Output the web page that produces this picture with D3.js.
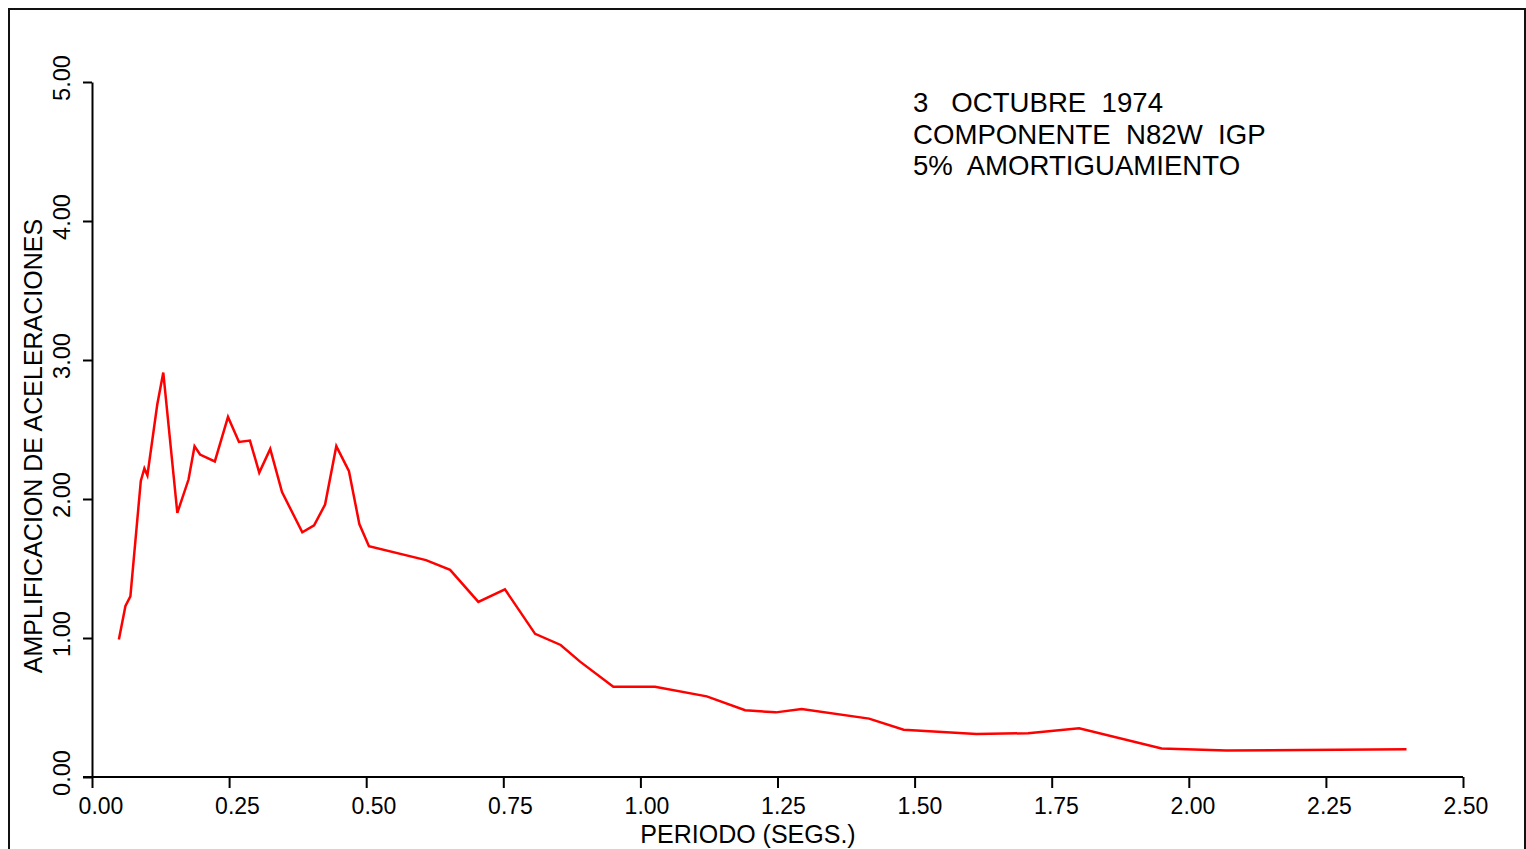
<!DOCTYPE html>
<html>
<head>
<meta charset="utf-8">
<script src="https://cdn.jsdelivr.net/npm/d3@7"></script>
<style>
  html, body { margin: 0; padding: 0; background: #fff; }
  svg { display: block; font-family: Arial, "Liberation Sans", sans-serif; }
</style>
</head>
<body>
<svg id="chart" width="1526" height="849"></svg>
<script>
// Response spectrum: period (s) vs. acceleration amplification
const periods = [0.049, 0.061, 0.070, 0.089, 0.0955, 0.101, 0.119, 0.130, 0.1556, 0.176,
  0.187, 0.197, 0.224, 0.248, 0.268, 0.288, 0.305, 0.325, 0.3465, 0.3835,
  0.405, 0.425, 0.4455, 0.4686, 0.4875, 0.505, 0.609, 0.653, 0.7045, 0.753,
  0.808, 0.8546, 0.890, 0.9506, 1.0266, 1.121, 1.191, 1.247, 1.294, 1.417,
  1.480, 1.613, 1.707, 1.800, 1.9505, 2.069, 2.397];
const amplification = [0.99, 1.23, 1.30, 2.13, 2.22, 2.17, 2.68, 2.91, 1.90, 2.14,
  2.38, 2.32, 2.27, 2.59, 2.41, 2.42, 2.19, 2.36, 2.05, 1.76,
  1.81, 1.96, 2.38, 2.20, 1.82, 1.66, 1.56, 1.49, 1.26, 1.35,
  1.03, 0.95, 0.83, 0.65, 0.65, 0.58, 0.48, 0.465, 0.49, 0.42,
  0.34, 0.31, 0.315, 0.35, 0.205, 0.19, 0.20];

const xTicks = [0, 0.25, 0.5, 0.75, 1.0, 1.25, 1.5, 1.75, 2.0, 2.25, 2.5];
const yTicks = [0, 1, 2, 3, 4, 5];
const xTitle = "PERIODO (SEGS.)";
const yTitle = "AMPLIFICACION DE ACELERACIONES";
const noteLines = ["3   OCTUBRE  1974", "COMPONENTE  N82W  IGP", "5%  AMORTIGUAMIENTO"];

const svg = d3.select("#chart");

// outer frame
svg.append("rect")
  .attr("x", 9).attr("y", 9).attr("width", 1516).attr("height", 860)
  .attr("fill", "none").attr("stroke", "#111").attr("stroke-width", 2);

const x = d3.scaleLinear().domain([0, 2.5]).range([92, 1463]);
const y = d3.scaleLinear().domain([0, 5]).range([777, 82]);
// tick labels sit slightly right of their ticks
const xLab = d3.scaleLinear().domain([0, 2.5]).range([101, 1466]);

const fmt = d3.format(".2f");

// x axis
const gx = svg.append("g").attr("transform", `translate(0,${y(0)})`);
gx.call(d3.axisBottom(x).tickValues(xTicks).tickSize(11).tickSizeOuter(0).tickFormat(""));
gx.select(".domain").attr("stroke", "#000").attr("stroke-width", 2).attr("d", `M${x(0) - 9},0H${x(2.5)}`);
gx.selectAll(".tick line").attr("stroke", "#000").attr("stroke-width", 2);

svg.append("g").selectAll("text").data(xTicks).join("text")
  .attr("x", d => xLab(d)).attr("y", 814)
  .attr("text-anchor", "middle").attr("font-size", 23).attr("fill", "#000")
  .text(d => fmt(d));

// y axis
const gy = svg.append("g").attr("transform", `translate(${x(0)},0)`);
gy.call(d3.axisLeft(y).tickValues(yTicks).tickSize(9).tickSizeOuter(0).tickFormat(""));
gy.select(".domain").attr("stroke", "#000").attr("stroke-width", 2);
gy.selectAll(".tick line").attr("stroke", "#000").attr("stroke-width", 2);

svg.append("g").selectAll("text").data(yTicks).join("text")
  .attr("transform", d => `translate(70,${y(d) - 4}) rotate(-90)`)
  .attr("text-anchor", "middle").attr("font-size", 23.5).attr("fill", "#000")
  .text(d => fmt(d));

// axis titles
svg.append("text")
  .attr("x", 748).attr("y", 843)
  .attr("text-anchor", "middle").attr("font-size", 25).attr("fill", "#000")
  .text(xTitle);

svg.append("text")
  .attr("transform", `translate(42,446) rotate(-90)`)
  .attr("text-anchor", "middle").attr("font-size", 25).attr("fill", "#000")
  .text(yTitle);

// spectrum curve
const pts = periods.map((p, i) => [p, amplification[i]]);
svg.append("path")
  .datum(pts)
  .attr("fill", "none").attr("stroke", "#ff0000").attr("stroke-width", 2.5)
  .attr("stroke-linejoin", "miter")
  .attr("d", d3.line().x(d => x(d[0])).y(d => y(d[1])));

// record annotation
svg.append("g").selectAll("text").data(noteLines).join("text")
  .attr("x", 913).attr("y", (d, i) => 112 + i * 31.5)
  .attr("font-size", 27.6).attr("fill", "#000")
  .style("white-space", "pre")
  .text(d => d);
</script>
</body>
</html>
